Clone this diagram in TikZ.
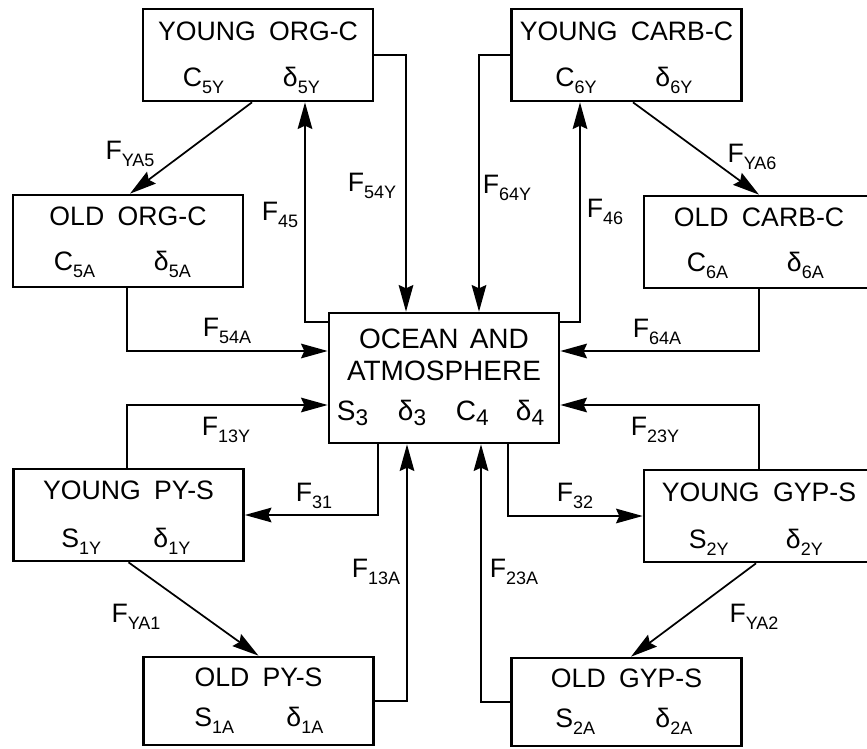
\documentclass[tikz,border=0pt]{standalone}
\usepackage{fontspec}
\setmainfont{Liberation Sans}
\usetikzlibrary{arrows.meta,calc}
\newcommand{\lsub}[1]{\raisebox{-5pt}{\fontsize{13.5}{13.5}\selectfont #1}}
\newcommand{\osub}[1]{\raisebox{-3.5pt}{\fontsize{17}{17}\selectfont #1}}
\begin{document}
\begin{tikzpicture}[x=0.75pt,y=-0.75pt,
  font=\fontsize{20}{24}\selectfont,
  box/.style={draw,line width=2pt,minimum width=172.5pt,minimum height=69pt,inner sep=0pt},
  bbox/.style={box,minimum height=66pt},
  obox/.style={draw,line width=2pt,minimum width=172.5pt,minimum height=97.5pt,inner sep=0pt},
  flow/.style={line width=1.3pt},
  arr/.style={flow,-{Stealth[length=20pt,width=11pt,inset=2.5pt]}},
  txt/.style={inner sep=0pt},
  otxt/.style={inner sep=0pt,font=\fontsize{21}{25}\selectfont},
  lab/.style={inner sep=0pt}]
\useasboundingbox (0,0) rectangle (867,749);
\clip (0,0) rectangle (867,749);
\fill[white] (0,0) rectangle (867,749);

% boxes
\node[box] (yorg) at (258,55) {};
\node[box] (ycarb) at (626.5,55) {};
\node[box] (oorg) at (128,241) {};
\node[box] (ocarb) at (759,242) {};
\node[obox] (ocean) at (444,378) {};
\node[box] (ypy) at (128.5,515) {};
\node[box] (ygyp) at (759,516) {};
\node[bbox] (opy) at (258.5,701) {};
\node[bbox] (ogyp) at (626.5,702) {};

% box texts
\node[txt,anchor=base] (yorgT) at ($(yorg.north)+(0,33)$) {YOUNG\hspace{0.5em}ORG-C};
\node[txt,anchor=base west] (yorgA) at ($(yorg.north west)+(41,79)$) {C\lsub{5Y}};
\node[txt,anchor=base west] (yorgB) at ($(yorg.north west)+(141,79)$) {δ\lsub{5Y}};

\node[txt,anchor=base] (ycarbT) at ($(ycarb.north)+(0,33)$) {YOUNG\hspace{0.5em}CARB-C};
\node[txt,anchor=base west] (ycarbA) at ($(ycarb.north west)+(45,79)$) {C\lsub{6Y}};
\node[txt,anchor=base west] (ycarbB) at ($(ycarb.north west)+(145,79)$) {δ\lsub{6Y}};

\node[txt,anchor=base] (oorgT) at ($(oorg.north)+(0,32)$) {OLD\hspace{0.5em}ORG-C};
\node[txt,anchor=base west] (oorgA) at ($(oorg.north west)+(42,77)$) {C\lsub{5A}};
\node[txt,anchor=base west] (oorgB) at ($(oorg.north west)+(142,77)$) {δ\lsub{5A}};

\node[txt,anchor=base] (ocarbT) at ($(ocarb.north)+(0,32)$) {OLD\hspace{0.5em}CARB-C};
\node[txt,anchor=base west] (ocarbA) at ($(ocarb.north west)+(44,77)$) {C\lsub{6A}};
\node[txt,anchor=base west] (ocarbB) at ($(ocarb.north west)+(144,77)$) {δ\lsub{6A}};

\node[txt,anchor=base] (ypyT) at ($(ypy.north)+(0,32)$) {YOUNG\hspace{0.5em}PY-S};
\node[txt,anchor=base west] (ypyA) at ($(ypy.north west)+(49,80)$) {S\lsub{1Y}};
\node[txt,anchor=base west] (ypyB) at ($(ypy.north west)+(141,80)$) {δ\lsub{1Y}};

\node[txt,anchor=base] (ygypT) at ($(ygyp.north)+(0,33)$) {YOUNG\hspace{0.5em}GYP-S};
\node[txt,anchor=base west] (ygypA) at ($(ygyp.north west)+(46,80)$) {S\lsub{2Y}};
\node[txt,anchor=base west] (ygypB) at ($(ygyp.north west)+(143,80)$) {δ\lsub{2Y}};

\node[txt,anchor=base] (opyT) at ($(opy.north)+(0,31)$) {OLD\hspace{0.5em}PY-S};
\node[txt,anchor=base west] (opyA) at ($(opy.north west)+(52,71)$) {S\lsub{1A}};
\node[txt,anchor=base west] (opyB) at ($(opy.north west)+(144,71)$) {δ\lsub{1A}};

\node[txt,anchor=base] (ogypT) at ($(ogyp.north)+(0,31)$) {OLD\hspace{0.5em}GYP-S};
\node[txt,anchor=base west] (ogypA) at ($(ogyp.north west)+(45,71)$) {S\lsub{2A}};
\node[txt,anchor=base west] (ogypB) at ($(ogyp.north west)+(145,71)$) {δ\lsub{2A}};

\node[otxt,anchor=base] (oceanT1) at ($(ocean.north)+(0,37)$) {OCEAN\hspace{0.4em}AND};
\node[otxt,anchor=base] (oceanT2) at ($(ocean.north)+(0,69)$) {ATMOSPHERE};
\node[otxt,anchor=base west] (oceanA) at ($(ocean.north west)+(9,109)$) {S\osub{3}};
\node[otxt,anchor=base west] (oceanB) at ($(ocean.north west)+(70,109)$) {δ\osub{3}};
\node[otxt,anchor=base west] (oceanC) at ($(ocean.north west)+(128,109)$) {C\osub{4}};
\node[otxt,anchor=base west] (oceanD) at ($(ocean.north west)+(188,109)$) {δ\osub{4}};

% connectors
\draw[arr] (yorg.east) -| ($(ocean.north)+(-38,0)$);
\draw[arr] (ycarb.west) -| ($(ocean.north)+(35,0)$);
\draw[arr] ($(ocean.north west)+(0,10)$) -| ($(yorg.south)+(47,0)$);
\draw[arr] ($(ocean.north east)+(0,10)$) -| ($(ycarb.south)+(-46.5,0)$);
\draw[arr] ($(yorg.south)+(-6,0)$) -- ($(oorg.north)+(2,0)$);
\draw[arr] ($(ycarb.south)+(6.5,0)$) -- (ocarb.north);
\draw[arr] ($(oorg.south)+(-1,0)$) |- ($(ocean.west)+(0,-27)$);
\draw[arr] (ocarb.south) |- ($(ocean.east)+(0,-27)$);
\draw[arr] ($(ypy.north)+(-1.5,0)$) |- ($(ocean.west)+(0,27)$);
\draw[arr] (ygyp.north) |- ($(ocean.east)+(0,27)$);
\draw[arr] ($(ocean.south)+(-66,0)$) |- (ypy.east);
\draw[arr] ($(ocean.south)+(64,0)$) |- (ygyp.west);
\draw[arr] (opy.east) -| ($(ocean.south)+(-37,0)$);
\draw[arr] (ogyp.west) -| ($(ocean.south)+(37,0)$);
\draw[arr] (ypy.south) -- (opy.north);
\draw[arr] ($(ygyp.south)+(-3,0)$) -- ($(ogyp.north)+(4.5,0)$);

% flux labels
\node[lab] (lYA5) at (130,154) {F\lsub{YA5}};
\node[lab] (l45) at (280,215) {F\lsub{45}};
\node[lab] (l54Y) at (372,186) {F\lsub{54Y}};
\node[lab] (l64Y) at (507,188) {F\lsub{64Y}};
\node[lab] (l46) at (605,212) {F\lsub{46}};
\node[lab] (lYA6) at (752,157) {F\lsub{YA6}};
\node[lab] (l54A) at (227,331) {F\lsub{54A}};
\node[lab] (l64A) at (657,332) {F\lsub{64A}};
\node[lab] (l13Y) at (226,430) {F\lsub{13Y}};
\node[lab] (l23Y) at (655,430) {F\lsub{23Y}};
\node[lab] (l31) at (314,496) {F\lsub{31}};
\node[lab] (l32) at (575,496) {F\lsub{32}};
\node[lab] (l13A) at (376,572) {F\lsub{13A}};
\node[lab] (l23A) at (514,572) {F\lsub{23A}};
\node[lab] (lYA1) at (136,617) {F\lsub{YA1}};
\node[lab] (lYA2) at (754,617) {F\lsub{YA2}};
\end{tikzpicture}
\end{document}
